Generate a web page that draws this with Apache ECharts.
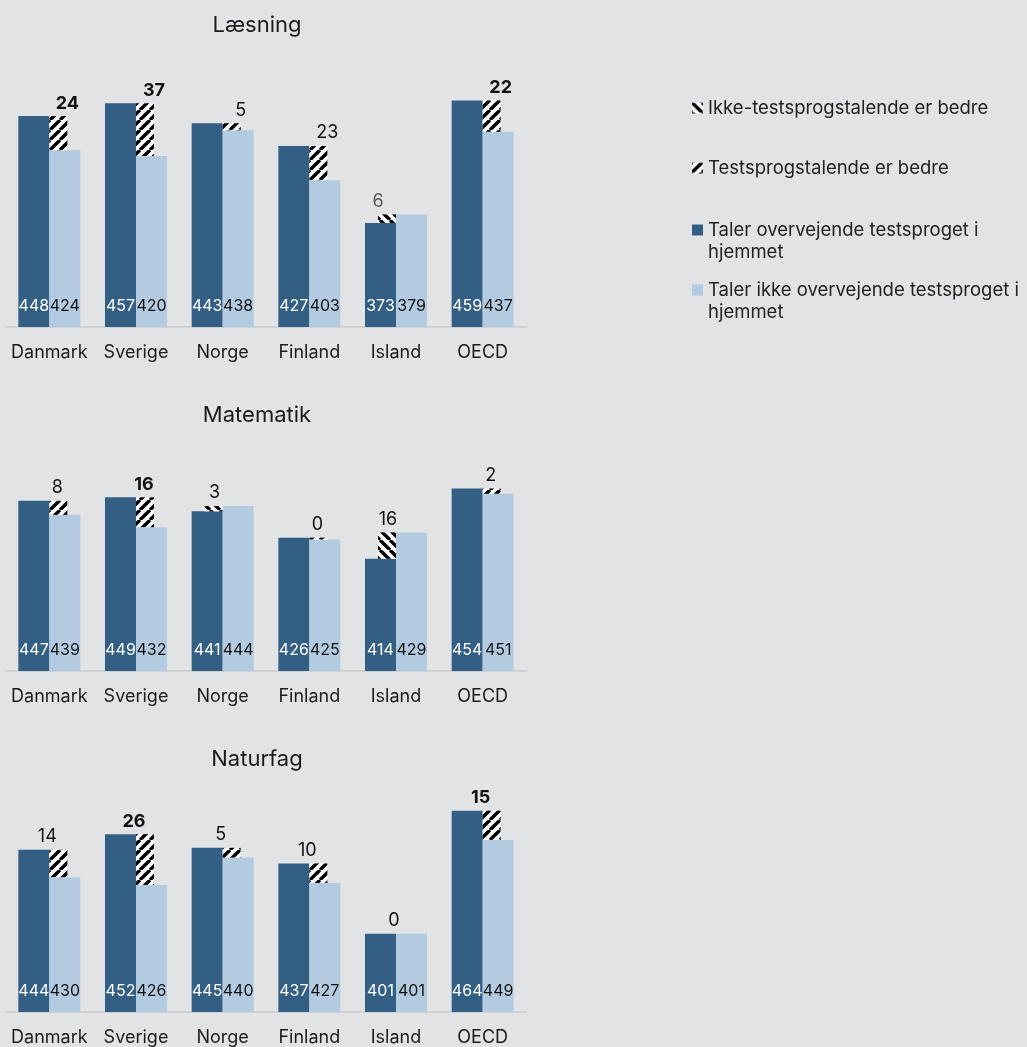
<!DOCTYPE html>
<html>
<head>
<meta charset="utf-8">
<script src="https://cdn.jsdelivr.net/npm/echarts@6/dist/echarts.min.js"></script>
<style>
html,body{margin:0;padding:0;background:#e2e3e5;}
#chart{width:1027px;height:1047px;}
</style>
</head>
<body>
<div id="chart"></div>
<script>
// ---------- DATA ----------
const categories = ['Danmark', 'Sverige', 'Norge', 'Finland', 'Island', 'OECD'];
const subjects = ['Læsning', 'Matematik', 'Naturfag'];

const readTest  = [448, 457, 443, 427, 373, 459];
const readOther = [424, 420, 438, 403, 379, 437];
const readDiff  = [24, 37, 5, 23, 6, 22];
const readSig   = [1, 1, 0, 0, 0, 1];

const mathTest  = [447, 449, 441, 426, 414, 454];
const mathOther = [439, 432, 444, 425, 429, 451];
const mathDiff  = [8, 16, 3, 0, 16, 2];
const mathSig   = [0, 1, 0, 0, 0, 0];

const sciTest   = [444, 452, 445, 437, 401, 464];
const sciOther  = [430, 426, 440, 427, 401, 449];
const sciDiff   = [14, 26, 5, 10, 0, 15];
const sciSig    = [0, 1, 0, 0, 0, 1];

const seriesNames = [
  'Ikke-testsprogstalende er bedre',
  'Testsprogstalende er bedre',
  'Taler overvejende testsproget i hjemmet',
  'Taler ikke overvejende testsproget i hjemmet'
];

// ---------- STYLE / LAYOUT ----------
const FONT = 'Inter, "Noto Sans", sans-serif';
const DARK = '#345f84';
const LIGHT = '#b3cbe1';
const BG = '#e2e3e5';
const TEXT = '#1a1a1a';

const panels = [
  {test: readTest, other: readOther, diff: readDiff, sig: readSig, top: 99,  height: 228, min: 300, max: 460, titleTop: 14,  shift: 9,   muted: [4]},
  {test: mathTest, other: mathOther, diff: mathDiff, sig: mathSig, top: 478, height: 193, min: 350, max: 460, titleTop: 404, shift: -1,  muted: []},
  {test: sciTest,  other: sciOther,  diff: sciDiff,  sig: sciSig,  top: 797, height: 217, min: 361, max: 471, titleTop: 748, shift: -11, muted: []}
];

function makeStripe(forward) {
  const c = document.createElement('canvas');
  const s = 10;
  c.width = s; c.height = s;
  const ctx = c.getContext('2d');
  ctx.fillStyle = '#ffffff';
  ctx.fillRect(0, 0, s, s);
  ctx.strokeStyle = '#000000';
  ctx.lineWidth = 3.4;
  ctx.beginPath();
  for (let k = -s; k <= s; k += s) {
    if (forward) { ctx.moveTo(k, s); ctx.lineTo(k + s, 0); }
    else { ctx.moveTo(k, 0); ctx.lineTo(k + s, s); }
  }
  ctx.stroke();
  return {image: c, repeat: 'repeat'};
}
const patBack = makeStripe(false);
const patFwd = makeStripe(true);

const grids = [], xAxes = [], yAxes = [], titles = [], series = [];

panels.forEach((p, g) => {
  grids.push({left: 6, width: 520, top: p.top, height: p.height});
  xAxes.push({
    type: 'category', gridIndex: g, data: categories,
    axisLine: {show: true, lineStyle: {color: '#d0d1d3', width: 2}},
    axisTick: {show: false},
    axisLabel: {color: TEXT, fontSize: 18, fontFamily: FONT, margin: 17, interval: 0}
  });
  xAxes.push({type: 'category', gridIndex: g, data: categories, show: false});
  yAxes.push({type: 'value', gridIndex: g, min: p.min, max: p.max, show: false, splitLine: {show: false}});
  titles.push({
    text: subjects[g], left: 257, top: p.titleTop, textAlign: 'center', padding: 0,
    textStyle: {fontSize: 22, fontWeight: 'normal', color: TEXT, fontFamily: FONT}
  });

  const mainX = 2 * g, hatchX = 2 * g + 1;
  series.push({
    name: seriesNames[2], type: 'bar', xAxisIndex: mainX, yAxisIndex: g,
    data: p.test, barWidth: 31, barGap: '0%', itemStyle: {color: DARK},
    label: {show: true, position: 'insideBottom', distance: 13, color: '#ffffff', fontSize: 16, fontFamily: FONT},
    silent: true, z: 2
  });
  series.push({
    name: seriesNames[3], type: 'bar', xAxisIndex: mainX, yAxisIndex: g,
    data: p.other, barWidth: 31, barGap: '0%', itemStyle: {color: LIGHT},
    label: {show: true, position: 'insideBottom', distance: 13, color: '#111111', fontSize: 16, fontFamily: FONT},
    silent: true, z: 2
  });

  const leftBase = [], leftHatch = [], rightBase = [], rightHatch = [];
  categories.forEach((c, i) => {
    const t = p.test[i], o = p.other[i];
    const lbl = {
      show: true, position: 'top', distance: 4,
      fontSize: 18, fontFamily: FONT,
      fontWeight: p.sig[i] ? 'bold' : 'normal',
      color: p.muted.indexOf(i) >= 0 ? '#5a5a5a' : '#111111',
      formatter: String(p.diff[i])
    };
    if (o > t) {
      leftBase.push(t);
      leftHatch.push({value: o - t, label: Object.assign({offset: [-p.shift, 0]}, lbl)});
      rightBase.push('-'); rightHatch.push('-');
    } else {
      rightBase.push(o);
      rightHatch.push({value: t - o, label: Object.assign({offset: [p.shift, 0]}, lbl)});
      leftBase.push('-'); leftHatch.push('-');
    }
  });
  const common = {type: 'bar', xAxisIndex: hatchX, yAxisIndex: g, barWidth: 18, barGap: '0%', silent: true, z: 3};
  series.push(Object.assign({name: '_baseL' + g, stack: 'L' + g, data: leftBase, itemStyle: {color: 'rgba(0,0,0,0)'}}, common));
  series.push(Object.assign({name: seriesNames[0], stack: 'L' + g, data: leftHatch, itemStyle: {color: patBack}}, common));
  series.push(Object.assign({name: '_baseR' + g, stack: 'R' + g, data: rightBase, itemStyle: {color: 'rgba(0,0,0,0)'}}, common));
  series.push(Object.assign({name: seriesNames[1], stack: 'R' + g, data: rightHatch, itemStyle: {color: patFwd}}, common));
});

const legendTops = [97, 157, 197, 257];
const legendText = [
  seriesNames[0],
  seriesNames[1],
  '\nTaler overvejende testsproget i\nhjemmet',
  '\nTaler ikke overvejende testsproget i\nhjemmet'
];
const legends = seriesNames.map((n, i) => ({
  data: [n], left: 692, top: legendTops[i], orient: 'vertical', padding: 0,
  icon: 'rect', itemWidth: 11, itemHeight: 11, itemGap: 0,
  selectedMode: false,
  formatter: () => legendText[i],
  textStyle: {fontSize: 18.5, fontFamily: FONT, color: '#222222', lineHeight: 22}
}));

const chart = echarts.init(document.getElementById('chart'), null, {renderer: 'canvas'});
chart.setOption({
  backgroundColor: BG,
  animation: false,
  title: titles,
  legend: legends,
  grid: grids,
  xAxis: xAxes,
  yAxis: yAxes,
  series: series
});
</script>
</body>
</html>
